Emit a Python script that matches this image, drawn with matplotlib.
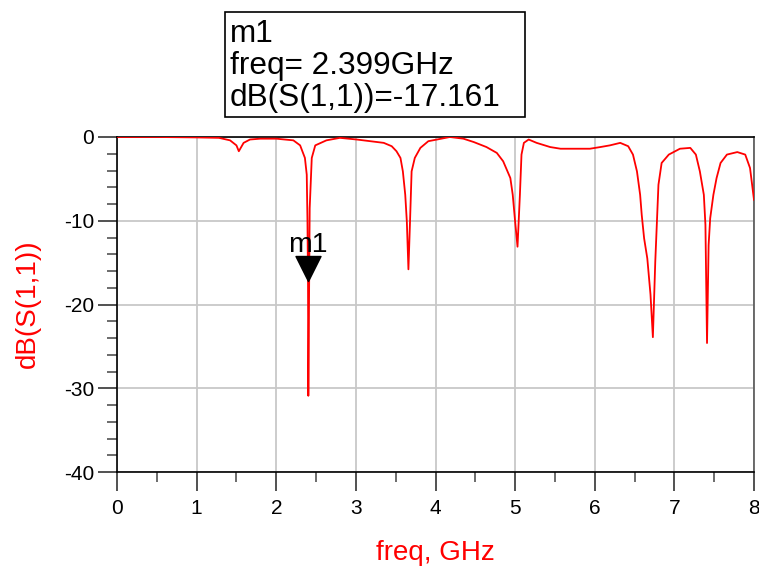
import matplotlib
matplotlib.use("Agg")
import matplotlib.pyplot as plt
from matplotlib.path import Path
from matplotlib.patches import Rectangle

plt.rcParams['font.family'] = ['Liberation Sans', 'DejaVu Sans']
plt.rcParams['axes.unicode_minus'] = False

# Data
freq_ghz = [0.0, 0.5, 1.0, 1.28, 1.42, 1.50, 1.53, 1.56, 1.59, 1.67, 1.8, 2.0,
            2.215, 2.30, 2.36, 2.383, 2.392, 2.399, 2.403, 2.42, 2.446, 2.49, 2.63,
            2.80, 3.01, 3.18, 3.35, 3.45, 3.51, 3.56, 3.59, 3.62, 3.64, 3.66, 3.68,
            3.70, 3.74, 3.81, 3.91, 4.02, 4.18, 4.35, 4.48, 4.64, 4.77, 4.85, 4.94,
            4.97, 5.00, 5.03, 5.06, 5.08, 5.11, 5.17, 5.27, 5.44, 5.57, 5.94, 6.07,
            6.19, 6.32, 6.42, 6.48, 6.53, 6.57, 6.59, 6.62, 6.66, 6.70, 6.73, 6.76,
            6.80, 6.84, 6.93, 7.07, 7.20, 7.27, 7.32, 7.37, 7.39, 7.41, 7.43, 7.45,
            7.49, 7.53, 7.58, 7.66, 7.79, 7.89, 7.95, 8.0]
s11_db = [0.0, 0.0, -0.05, -0.1, -0.4, -1.0, -1.7, -1.2, -0.7, -0.3, -0.2, -0.2,
          -0.4, -1.0, -2.5, -4.5, -10.0, -17.161, -30.9, -8.5, -2.5, -1.0, -0.4,
          -0.1, -0.3, -0.5, -0.7, -1.1, -1.7, -2.5, -4.1, -6.9, -10.1, -15.8, -10.1,
          -4.1, -2.5, -1.3, -0.5, -0.3, 0.0, -0.2, -0.6, -1.2, -1.9, -2.9, -4.9,
          -6.9, -10.1, -13.1, -6.9, -2.1, -0.7, -0.3, -0.7, -1.2, -1.4, -1.4, -1.2,
          -1.0, -0.7, -1.1, -2.1, -4.1, -6.9, -9.3, -12.1, -14.5, -18.8, -23.9, -14.9,
          -5.7, -3.1, -2.1, -1.4, -1.3, -2.1, -4.1, -6.9, -10.5, -24.6, -12.9, -9.7,
          -6.9, -4.9, -3.1, -2.1, -1.8, -2.1, -3.7, -7.5]

marker_name = "m1"
marker_freq = 2.399
marker_val = -17.161

x_ticks = [0, 1, 2, 3, 4, 5, 6, 7, 8]
y_ticks = [0, -10, -20, -30, -40]

W, H = 759, 571
fig = plt.figure(figsize=(W / 100, H / 100), dpi=100)
ax = fig.add_axes([117 / W, 1 - 472 / H, 637 / W, 335 / H])

ax.plot(freq_ghz, s11_db, color='red', lw=1.3, zorder=3)

ax.set_xlim(0, 8)
ax.set_ylim(-40, 0)
ax.set_xticks(x_ticks)
ax.set_yticks(y_ticks)
ax.set_xticks([0.5 + i for i in range(8)], minor=True)
ax.set_yticks([v for v in range(-38, 0, 2) if v % 10 != 0], minor=True)
ax.tick_params(which='major', direction='out', length=14, width=1.1, color='#222222',
               labelsize=15)
ax.tick_params(axis='x', which='major', pad=5.5)
ax.tick_params(axis='y', which='major', pad=2.5)
ax.tick_params(which='minor', direction='out', length=7, width=1.1, color='#444444')
ax.grid(True, which='major', color='#c8c8c8', lw=1.3, zorder=0)
for s in ax.spines.values():
    s.set_color('black')
    s.set_linewidth(1.2)
ax.spines['right'].set_color('#555555')

# Marker triangle with tip at the data point
tri = Path([(-1, 2), (1, 2), (0, 0), (-1, 2)],
           [Path.MOVETO, Path.LINETO, Path.LINETO, Path.CLOSEPOLY])
ax.plot([marker_freq], [marker_val], marker=tri, markersize=36, color='black',
        linestyle='none', zorder=5, clip_on=False)
ax.annotate(marker_name, xy=(marker_freq, marker_val), xytext=(0, 21),
            textcoords='offset points', ha='center', va='baseline', fontsize=20.5,
            color='black', zorder=6)

# Axis labels
fig.text(28 / W, 1 - 304 / H, 'dB(S(1,1))', rotation=90, ha='center', va='center',
         fontsize=20, color='red')
fig.text(435.5 / W, 1 - 553 / H, 'freq, GHz', ha='center', va='center',
         fontsize=20, color='red')

# Marker readout box
fig.patches.append(Rectangle((225 / W, 1 - 117 / H), 300 / W, 105 / H,
                             transform=fig.transFigure, fill=False,
                             edgecolor='black', lw=1.2))
lines = [marker_name, 'freq= %.3fGHz' % marker_freq, 'dB(S(1,1))=%.3f' % marker_val]
baselines = [41.7, 74, 106]
for txt, b in zip(lines, baselines):
    fig.text(230 / W, 1 - b / H, txt, ha='left', va='baseline', fontsize=22.7,
             color='black')

fig.savefig('out.png', dpi=100)
